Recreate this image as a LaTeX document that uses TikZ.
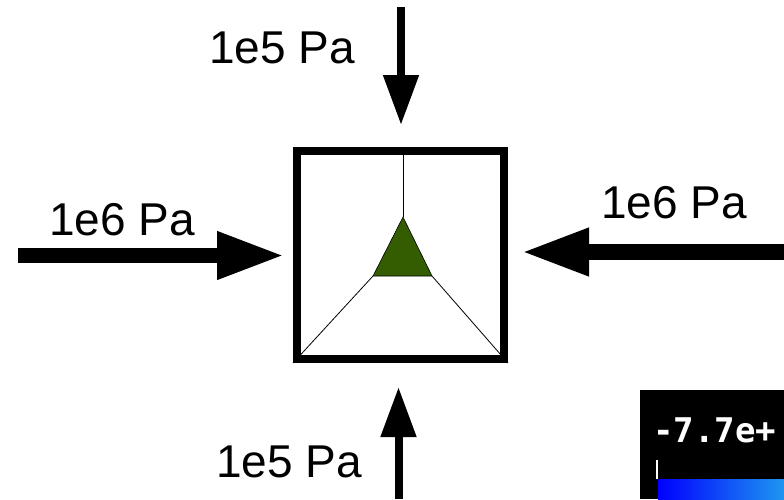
\documentclass[tikz,border=0pt]{standalone}
\usepackage{fontspec}
\setmainfont{Liberation Sans}
\newfontfamily\barfont{DejaVu Sans Mono}
\usetikzlibrary{arrows.meta, positioning}

\definecolor{cellgreen}{RGB}{52,92,0}
\definecolor{barblue}{RGB}{0,0,255}
\definecolor{barlight}{RGB}{30,150,240}

\tikzset{
  hpush/.style={line width=15.5pt, -{Triangle[length=68pt, width=44pt]}},
  vpush/.style={line width=8pt, -{Triangle[length=50pt, width=34pt]}},
  load/.style={font=\fontsize{46pt}{50pt}\selectfont, inner sep=0pt, anchor=base west},
}

\begin{document}
\begin{tikzpicture}[x=1pt, y=-1pt]
        \useasboundingbox (0,0) rectangle (784,499);
        \clip (0,0) rectangle (784,499);
        % cell with the grain
        \node[draw, line width=8pt, minimum width=207pt, minimum height=208pt, inner sep=0pt] (cell) at (400.5,255) {};
        \coordinate (apex) at (403,217);
        \coordinate (bl) at (373,276);
        \coordinate (br) at (432,276);
        \filldraw[fill=cellgreen, draw=black, line width=0.6pt] (apex) -- (bl) -- (br) -- cycle;
        \draw[line width=0.8pt] (apex) -- (apex |- cell.north);
        \draw[line width=0.8pt] (bl) -- (cell.south west);
        \draw[line width=0.8pt] (br) -- (cell.south east);
        % loads
        \coordinate (lin) at (18,255.5);
        \coordinate (rin) at (784,252);
        \coordinate (tin) at (401,7);
        \coordinate (bin) at (398.5,499);
        \draw[hpush, shorten >=8pt] (lin) -- (lin -| cell.west);
        \draw[hpush, shorten >=13pt] (rin) -- (rin -| cell.east);
        \draw[vpush, shorten >=22pt] (tin) -- (tin |- cell.north);
        \draw[vpush, shorten >=24pt] (bin) -- (bin |- cell.south);
        \node[load] (lleft) at (49,235) {1e6 Pa};
        \node[load] (lright) at (601,218) {1e6 Pa};
        \node[load] (ltop) at (209,63) {1e5 Pa};
        \node[load] (lbottom) at (216,477) {1e5 Pa};
        % colour bar
        \fill[black] (640,390) rectangle (784,499);
        \node[text=white, font={\barfont\bfseries\fontsize{34pt}{36pt}\selectfont}, inner sep=0pt, anchor=base west] (barmin) at (653,442) {-7.7e+};
        \draw[white, line width=2pt] (657,460) -- (657,479);
        \shade[left color=barblue, right color=barlight] (658,479) rectangle (784,499);
      \end{tikzpicture}
\end{document}
